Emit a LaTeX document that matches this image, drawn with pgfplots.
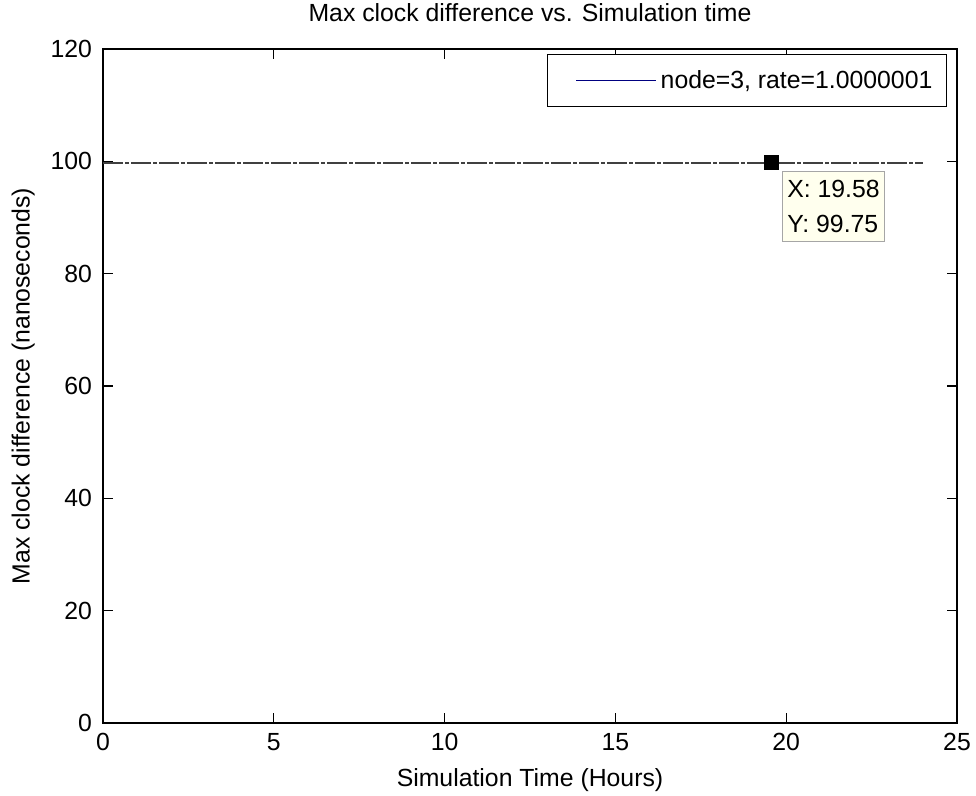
\documentclass[border=0pt]{standalone}
\usepackage{fontspec}
\setmainfont{Liberation Sans}
\usepackage{pgfplots}
\pgfplotsset{compat=1.18}
\definecolor{navyline}{RGB}{0,0,128}
\definecolor{tipfill}{RGB}{255,255,238}

\begin{document}
\begin{tikzpicture}
\begin{axis}[
  scale only axis,
  width=427pt, height=337pt,
  xmin=0, xmax=25, ymin=0, ymax=120,
  xtick={0,5,...,25}, ytick={0,20,...,120},
  tick align=inside, major tick length=5pt,
  tick style={black, line width=0.6pt},
  axis line style={line width=0.8pt},
  font=\fontsize{12.4}{14}\selectfont,
  /pgf/number format/assume math mode=true,
  yticklabel style={xshift=-2pt},
  xticklabel style={yshift=-1.5pt},
  title={Max clock difference vs. Simulation time},
  title style={yshift=4pt},
  xlabel={Simulation Time (Hours)},
  xlabel style={yshift=-2pt},
  ylabel={Max clock difference (nanoseconds)},
  ylabel style={yshift=1pt},
  legend style={at={(1,1)}, anchor=north east, xshift=-5pt, yshift=-2.5pt,
    draw=black, line width=0.6pt, inner xsep=5pt, inner ysep=5.75pt,
    font=\fontsize{12.4}{14}\selectfont},
  legend cell align=left,
  legend image code/.code={\path (0pt,0pt);
    \draw[navyline, solid, line width=0.7pt] (9pt,0pt) -- (49pt,0pt);},
]
\addplot[black!75, line width=0.9pt, dash pattern=on 10pt off 1pt on 2pt off 1pt]
  coordinates {(0,99.75) (24,99.75)};
\addlegendentry{node=3, rate=1.0000001}
\addplot[black, only marks, mark=square*, mark size=3.5pt, forget plot]
  coordinates {(19.58,99.75)};
\node[anchor=north west, draw=black!35, fill=tipfill, align=left,
      font=\fontsize{12.4}{17.5}\selectfont, inner xsep=2.5pt, inner ysep=4.5pt]
  at ([xshift=5pt,yshift=-4pt]axis cs:19.58,99.75) {X: 19.58\\Y: 99.75};
\end{axis}
\pgfresetboundingbox
\path[use as bounding box]
  ([xshift=-51.5pt,yshift=-36pt]current axis.south west) rectangle
  ([xshift=9.5pt,yshift=24.5pt]current axis.north east);
\end{tikzpicture}
\end{document}
